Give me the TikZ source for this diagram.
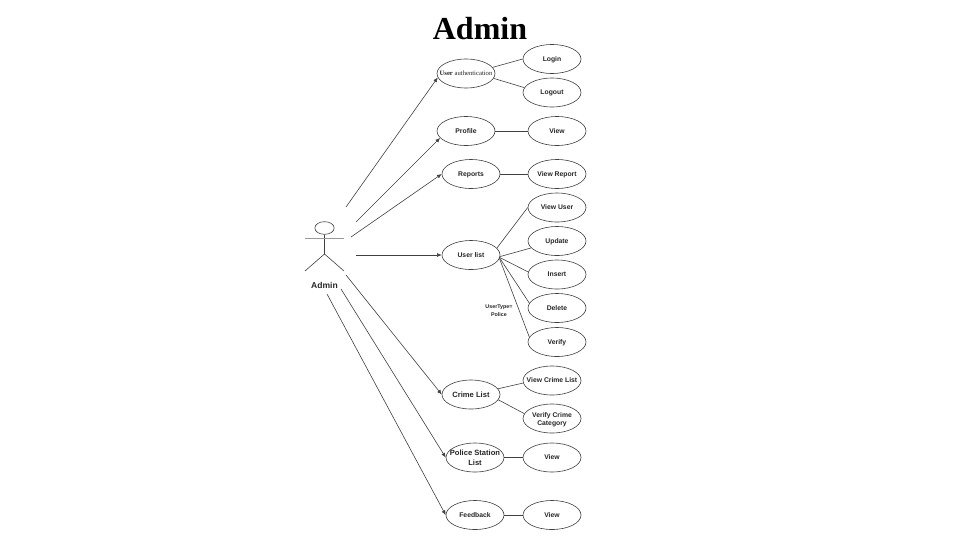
\documentclass[tikz,border=0pt]{standalone}
\usepackage{fontspec}
\setmainfont{Liberation Sans}
\newfontfamily\titlefont{Liberation Serif}
\usetikzlibrary{arrows.meta,shapes.geometric}
\tikzset{
	usebase/.style = {draw=black!75, line width=0.45pt, fill=white, ellipse, minimum width=43.5pt, minimum height=21.75pt, inner xsep=-12pt, inner ysep=-6pt, align=center, font=\bfseries\fontsize{5.1}{6}\selectfont, text=black!85},
	usecase/.style = {usebase, text height=3.7pt, text depth=0pt},
	usebig/.style = {usebase, font=\bfseries\fontsize{5.7}{7.5}\selectfont},
	line/.style = {draw, black!75, line width=0.45pt},
	assoc/.style = {line, -{Latex[length=3.5pt,width=3pt]}},
	tmp/.style = {coordinate}
}
\begin{document}
\begin{tikzpicture}[x=0.75pt,y=-0.75pt]
		\useasboundingbox (0,0) rectangle (960,540);

		\node [font=\titlefont\bfseries\fontsize{24}{28}\selectfont] (title) at (480,29) {Admin};

		% actor
		\node [draw, black!75, line width=0.45pt, ellipse, minimum width=14.5pt, minimum height=9.5pt, inner sep=0pt] (head) at (324.5,228) {};
		\node [tmp] (neck) at (324.5,254) {};
		\node [tmp] (armL) at (305,238) {};
		\node [tmp] (armR) at (343.5,238) {};
		\node [tmp] (footL) at (305,271) {};
		\node [tmp] (footR) at (344,271) {};
		\draw [line] (head) -- (neck);
		\draw [line, black!40] (armL) -- (armR);
		\draw [line] (footL) -- (neck) -- (footR);
		\node [font=\bfseries\fontsize{6.4}{8}\selectfont, text=black!85] (admin) at (324.5,285.5) {Admin};

		% use cases
		\node [usecase] (auth) at (466,73.5) {\titlefont\fontsize{5}{6}\selectfont User \mdseries authentication};
		\node [usecase] (login) at (552,59) {Login};
		\node [usecase] (logout) at (552,92.5) {Logout};
		\node [usecase] (profile) at (466,131) {Profile};
		\node [usecase] (viewA) at (557,131) {View};
		\node [usecase] (reports) at (471,174) {Reports};
		\node [usecase] (viewB) at (557,174) {View Report};
		\node [usecase] (users) at (471,255) {User list};
		\node [usecase] (viewC) at (557,207.5) {View User};
		\node [usecase] (update) at (557,241) {Update};
		\node [usecase] (insert) at (557,274.5) {Insert};
		\node [usecase] (delete) at (557,308) {Delete};
		\node [usecase] (verify) at (557,342) {Verify};
		\node [usebig, text height=4.2pt, text depth=0pt] (crime) at (471,394.5) {Crime List};
		\node [usecase] (viewD) at (552,380.5) {View Crime List};
		\node [usebase] (verifyC) at (552,418.5) {\rule{0pt}{6pt}Verify Crime\\Category};
		\node [usebig] (station) at (475,457.5) {Police Station\\List};
		\node [usecase] (viewE) at (552,457.5) {View};
		\node [usecase] (feedback) at (475,515) {Feedback};
		\node [usecase] (viewF) at (552,515) {View};
		\node [font=\bfseries\fontsize{4}{6}\selectfont, align=center, text=black!85] (utype) at (499,310.5) {UserType=\\Police};

		% free ends near the actor
		\node [tmp] (s1) at (346,207) {};
		\node [tmp] (s2) at (356,222) {};
		\node [tmp] (s3) at (351,237) {};
		\node [tmp] (s4) at (356,255) {};
		\node [tmp] (s5) at (346,275) {};
		\node [tmp] (s6) at (341,289) {};
		\node [tmp] (s7) at (327,294) {};

		\draw [assoc] (s1) -- (auth.188);
		\draw [assoc] (s2) -- (profile.195);
		\draw [assoc] (s3) -- (reports.180);
		\draw [assoc] (s4) -- (users);
		\draw [assoc] (s5) -- (crime.180);
		\draw [assoc] (s6) -- (station.180);
		\draw [assoc] (s7) -- (feedback.180);

		\draw [line] (auth.13) -- (login.180);
		\draw [line] (auth.-10) -- (logout.170);
		\draw [line] (profile) -- (viewA);
		\draw [line] (reports) -- (viewB);
		\draw [line] (users.15) -- (viewC.180);
		\draw [line] (users.-3) -- (update.195);
		\draw [line] (users.-5) -- (insert.175);
		\draw [line] (users.-6) -- (delete.170);
		\draw [line] (users.-7) -- (verify.170);
		\draw [line] (crime.12) -- (viewD.185);
		\draw [line] (crime.-11) -- (verifyC.170);
		\draw [line] (station) -- (viewE);
		\draw [line] (feedback) -- (viewF);
	\end{tikzpicture}
\end{document}
